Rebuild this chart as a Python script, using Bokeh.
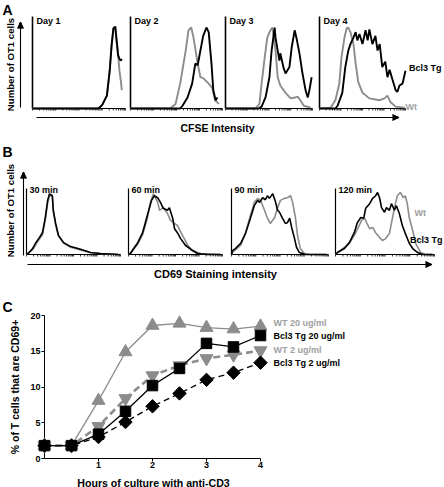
import math
from bokeh.plotting import figure
from bokeh.models import Range1d, FixedTicker
from bokeh.core.properties import value
from bokeh.embed import file_html
from bokeh.resources import INLINE

# ---------------- DATA ----------------
# Panel A: CFSE histograms (x: position along CFSE axis 0-100, y: % of max count)
a1_x = [0, 71, 75, 80, 83, 85, 87, 89, 90, 92, 93.5, 95, 96]
a1_tg = [0, 0, 4, 14, 41, 68, 87, 89, 79, 58, 54, 52, 54]
a1_wt = [0, 0, 4, 14, 41, 68, 87, 89, 76, 60, 41, 30, 20]

a2_wt_x = [0, 43, 49, 54, 60, 63, 66, 68.5, 73, 76, 79, 85, 89, 92, 96]
a2_wt_y = [0, 0, 5, 27, 63, 85, 88, 77, 49, 34, 33, 27, 22, 9, 5]
a2_tg_x = [0, 54, 56.5, 62, 67, 70.5, 73, 76, 79, 82.5, 85, 88, 90, 92.5, 94.5]
a2_tg_y = [0, 0, 3, 12, 27, 49, 47, 63, 79, 88, 83, 49, 20, 9, 12]

a3_wt_x = [0, 34.5, 39, 41.5, 45, 48, 51.5, 54, 57.5, 60, 63, 69, 75, 80, 83, 86, 90, 98]
a3_wt_y = [0, 0, 5, 27, 55, 77, 85, 88, 63, 34, 25, 17, 11, 12, 13, 9, 3, 1]
a3_tg_x = [0, 38, 41.5, 46, 50.5, 53, 56.5, 57.5, 60, 62, 63, 66.5, 69, 73.5, 76, 79.5,
           81.5, 85, 88.5, 92, 94.5, 96.5, 99]
a3_tg_y = [0, 0, 2, 12, 34, 63, 88, 77, 63, 52, 60, 45, 38, 45, 66, 85, 77, 60, 38, 20, 12, 20, 34]

a4_wt_x = [0, 13, 18.5, 23, 25.5, 29, 31.5, 33.5, 36, 39.5, 42, 45, 50, 58, 70, 75.5, 79, 82.5, 88.5, 99]
a4_wt_y = [0, 1, 9, 27, 55, 77, 87, 88, 83, 70, 49, 29, 17, 11, 9, 11, 14, 7, 2, 1]
a4_tg_x = [0, 18.5, 21, 26.5, 30, 33.5, 36, 39.5, 42, 44, 46.5, 50, 53.5, 56, 58, 61.5, 65,
           67.5, 70, 73, 76.5, 79, 81.5, 85, 88.5, 90.5, 93, 96.5, 100]
a4_tg_y = [0, 0, 3, 17, 45, 63, 70, 77, 83, 74, 81, 70, 85, 74, 86, 70, 79, 63, 70, 45, 51,
           34, 42, 31, 20, 18, 25, 27, 41]

# Panel B: CD69 histograms
b1_x = [0, 2, 6.5, 9.5, 13, 17, 20, 22.5, 24.5, 27.5, 28.5, 31, 34, 39.5, 47, 57.5, 68, 78.5, 98]
b1_tg = [0, 2, 9, 17, 24, 33, 56, 82, 92, 89, 67, 47, 29, 18, 12, 8, 3, 1.5, 0]
b1_wt = [0, 2, 7, 14, 22, 30, 52, 78, 90, 88, 66, 45, 28, 17, 11, 7, 3, 1.5, 0]

b2_tg_x = [0, 2, 5.5, 9.5, 15, 20, 24.5, 27.5, 31, 34, 37, 41.5, 43.5, 47, 49, 52, 55.5,
           60.5, 66, 73.5, 84, 98]
b2_tg_y = [0, 1.5, 9, 17, 33, 59, 82, 89, 86, 79, 70, 67, 71, 55, 39, 33, 24, 14, 8, 1.5, 0, 0]
b2_wt_x = [0, 2, 5.5, 9.5, 15, 20, 23.5, 26.5, 31, 33, 37, 41.5, 44.5, 48, 52, 57.5, 63, 68, 76.5, 98]
b2_wt_y = [0, 1.5, 8, 15, 30, 55, 80, 92, 79, 67, 71, 62, 52, 48, 44, 29, 14, 6, 1.5, 0]

b3_tg_x = [0, 1, 4, 9.5, 14.5, 19.5, 23.5, 27, 29, 32, 35, 37, 39, 42.5, 45.5, 47.5, 49.5,
           52.5, 55.5, 57.5, 60, 62, 65, 67, 70, 76.5, 98]
b3_tg_y = [0, 6, 9, 17, 32, 55, 74, 82, 79, 86, 83, 89, 85, 92, 79, 67, 64, 55, 47, 48, 55,
           41, 24, 11, 3, 0, 0]
b3_wt_x = [0, 1, 9.5, 14.5, 19.5, 23.5, 27, 30, 34, 37, 40, 44.5, 47.5, 50.5, 54.5, 57.5,
           61, 63, 66, 68, 71, 75, 80.5, 98]
b3_wt_y = [0, 3, 14, 33, 59, 79, 85, 82, 67, 55, 47, 56, 71, 82, 85, 86, 89, 79, 55, 29, 9, 1.5, 0, 0]

b4_tg_x = [0, 2, 9, 14, 19, 22, 25.5, 28.5, 30.5, 34.5, 37.5, 40.5, 42.5, 44.5, 46.5, 49.5,
           51.5, 54.5, 56.5, 59.5, 61.5, 64.5, 67.5, 70.5, 74.5, 78, 83, 88, 98]
b4_tg_y = [0, 3, 9, 18, 33, 48, 56, 55, 70, 77, 85, 89, 94, 86, 71, 64, 71, 67, 77, 67, 74,
           62, 44, 32, 17, 9, 3, 0, 0]
b4_wt_x = [0, 2, 14, 19, 24, 26.5, 29.5, 31.5, 34.5, 37.5, 40.5, 44.5, 47.5, 50.5, 54.5,
           57.5, 60.5, 62.5, 65.5, 68.5, 70.5, 72.5, 74.5, 78, 81, 86, 91, 98]
b4_wt_y = [0, 3, 17, 29, 44, 52, 55, 48, 39, 41, 33, 26, 21, 24, 32, 55, 77, 89, 94, 86, 89,
           77, 56, 36, 17, 3, 0, 0]

day_labels = ["Day 1", "Day 2", "Day  3", "Day 4"]
time_labels = ["30 min", "60 min", "90 min", "120 min"]

# Panel C: % CD69+ over time
hours = [0, 0.5, 1, 1.5, 2, 2.5, 3, 3.5, 4]
wt_20 = [1.8, 1.8, 8.1, 14.9, 18.6, 18.9, 18.3, 18.1, 18.5]
tg_20 = [1.8, 1.8, 3.4, 6.6, 10.2, 12.6, 16.1, 15.6, 17.2]
wt_2 = [1.8, 1.8, 4.5, 8.4, 11.6, 13.0, 14.0, 14.5, 15.1]
tg_2 = [1.8, 1.8, 3.0, 5.1, 7.3, 9.1, 11.0, 12.0, 13.4]
c_xticks = [1, 2, 3, 4]
c_yticks = [0, 5, 10, 15, 20]
series_names = ["WT 20 ug/ml", "Bcl3 Tg 20 ug/ml", "WT 2 ug/ml", "Bcl3 Tg 2 ug/ml"]

# ---------------- STYLE / LAYOUT ----------------
FONT = "Liberation Sans"
BLACK = "#000000"
GRAY = "#8c8c8c"
TGRAY = "#a0a0a0"
W, H = 444, 487
FL, FR, FT, FB = 44, 260, 315, 458   # frame of panel C (canvas px)


def fs(px):
    return f"{px:.1f}px"


p = figure(width=W, height=H, x_range=Range1d(0, 4), y_range=Range1d(0, 20),
           toolbar_location=None, output_backend="svg", title=None,
           min_border_left=FL, min_border_right=W - FR, min_border_top=FT,
           min_border_bottom=H - FB, outline_line_color=None)
p.grid.visible = False

boxes = {
    "a1": (32, 125, 16, 108), "a2": (130, 222, 16, 108),
    "a3": (225, 312, 16, 108), "a4": (319, 405, 16, 108),
    "b1": (26, 120, 188, 254), "b2": (128, 222, 188, 254),
    "b3": (231, 328, 188, 254), "b4": (335, 434, 188, 254),
}
# "ref": canvas-pixel units (y downwards); one named range pair per histogram subplot
ext_x = {"ref": Range1d(FL, FR)}
ext_y = {"ref": Range1d(FB, FT)}
kys = {}
for name, (L, R, T, B) in boxes.items():
    kx = 100.0 / (R - L)
    ext_x[name] = Range1d((FL - L) * kx, (FR - L) * kx)
    ky = 100.0 / (B - T)
    ext_y[name] = Range1d((B - FB) * ky, (B - FT) * ky)
    kys[name] = ky
p.extra_x_ranges = ext_x
p.extra_y_ranges = ext_y

TICKS = [25 * (d + math.log10(k)) for d in range(4) for k in range(1, 10)] + [100]


def ov(r):
    r.level = "overlay"
    return r


def sub_xy(name, rx, ry):
    L, R, T, B = boxes[name]
    return (rx - L) * 100.0 / (R - L), (B - ry) * 100.0 / (B - T)


def arrow_segments(name, xs, ys, xe, ye):
    """Segments (in a subplot's data units) of an arrow between two canvas-pixel points."""
    out = ([], [], [], [])

    def seg(ax, ay, bx, by):
        u0, v0 = sub_xy(name, ax, ay)
        u1, v1 = sub_xy(name, bx, by)
        out[0].append(u0); out[1].append(v0); out[2].append(u1); out[3].append(v1)

    length = math.hypot(xe - xs, ye - ys)
    dx, dy = (xe - xs) / length, (ye - ys) / length
    px, py = -dy, dx
    seg(xs, ys, xe - 3 * dx, ye - 3 * dy)
    hl, hw = 6.0, 3.0
    bx, by = xe - hl * dx, ye - hl * dy
    steps = 9
    for i in range(steps):
        t = -hw + 2 * hw * i / (steps - 1)
        seg(xe, ye, bx + t * px, by + t * py)
    return out


def draw_hist(name, wt_x, wt_y, tg_x, tg_y, axis_w, curve_w, arrows=()):
    kw = dict(x_range_name=name, y_range_name=name)
    ky = kys[name]
    n = len(TICKS)
    ov(p.segment(x0=TICKS, y0=[0] * n, x1=TICKS, y1=[-2.0 * ky] * n,
                 line_color=BLACK, line_width=0.8, **kw))
    # baseline + arrows in one renderer
    x0s, y0s, x1s, y1s = [0], [0], [100], [0]
    for a in arrows:
        sx0, sy0, sx1, sy1 = arrow_segments(name, *a)
        x0s += sx0; y0s += sy0; x1s += sx1; y1s += sy1
    ov(p.segment(x0=x0s, y0=y0s, x1=x1s, y1=y1s, line_color=BLACK, line_width=1.1, **kw))
    ov(p.segment(x0=[0], y0=[0], x1=[0], y1=[100], line_color=BLACK, line_width=axis_w, **kw))
    ov(p.line(wt_x, wt_y, line_color=GRAY, line_width=curve_w, **kw))
    ov(p.line(tg_x, tg_y, line_color=BLACK, line_width=curve_w, **kw))


draw_hist("a1", a1_x, a1_wt, a1_x, a1_tg, 1.6, 1.9,
          arrows=[(20, 107, 20, 22), (36, 117, 398, 117)])
draw_hist("a2", a2_wt_x, a2_wt_y, a2_tg_x, a2_tg_y, 1.6, 1.9)
draw_hist("a3", a3_wt_x, a3_wt_y, a3_tg_x, a3_tg_y, 1.6, 1.9)
draw_hist("a4", a4_wt_x, a4_wt_y, a4_tg_x, a4_tg_y, 1.6, 1.9)
draw_hist("b1", b1_x, b1_wt, b1_x, b1_tg, 1.2, 1.6,
          arrows=[(23, 255, 23, 172), (27, 264, 431, 264)])
draw_hist("b2", b2_wt_x, b2_wt_y, b2_tg_x, b2_tg_y, 1.2, 1.6)
draw_hist("b3", b3_wt_x, b3_wt_y, b3_tg_x, b3_tg_y, 1.2, 1.6)
draw_hist("b4", b4_wt_x, b4_wt_y, b4_tg_x, b4_tg_y, 1.2, 1.6)


def lab(x, y, text, size, color=BLACK, align="left", baseline="middle", angle=0.0):
    ov(p.text(x=[x], y=[y], text=[text], x_range_name="ref", y_range_name="ref",
              text_font=value(FONT), text_font_size=value(fs(size)),
              text_font_style="bold", text_color=color, text_align=align,
              text_baseline=baseline, angle=angle))


# panel letters
lab(2, 1, "A", 14, baseline="top")
lab(2, 143, "B", 14, baseline="top")
lab(2, 298, "C", 14, baseline="top")
# y labels
lab(10, 64, "Number of OT1 cells", 9.6, align="center", angle=math.pi / 2)
lab(10, 210, "Number of OT1 cells", 9.6, align="center", angle=math.pi / 2)
# subplot titles
for i, k in enumerate(["a1", "a2", "a3", "a4"]):
    lab(boxes[k][0] + 4, 20, day_labels[i], 9)
for i, k in enumerate(["b1", "b2", "b3", "b4"]):
    lab(boxes[k][0] + 3, 189, time_labels[i], 9)
# axis titles
lab(217, 127, "CFSE Intensity", 10.5, align="center")
lab(215, 273, "CD69 Staining intensity", 11, align="center")
lab(153, 482, "Hours of culture with anti-CD3", 10.6, align="center")
# series labels
lab(441, 67, "Bcl3 Tg", 9, align="right")
lab(405, 106, "Wt", 9, color=TGRAY)
lab(414, 212, "Wt", 9, color=TGRAY)
lab(442, 239, "Bcl3 Tg", 9, align="right")

# ---------------- PANEL C (main frame, real axes) ----------------
p.xaxis.ticker = FixedTicker(ticks=c_xticks)
p.yaxis.ticker = FixedTicker(ticks=c_yticks)
for ax in (p.xaxis[0], p.yaxis[0]):
    ax.major_tick_in = 0
    ax.major_tick_out = 3
    ax.minor_tick_line_color = None
    ax.axis_line_color = BLACK
    ax.major_tick_line_color = BLACK
    ax.major_label_text_font = FONT
    ax.major_label_text_font_size = fs(9)
    ax.major_label_text_font_style = "bold"
    ax.major_label_text_color = BLACK
    ax.axis_label_text_font = FONT
    ax.axis_label_text_font_style = "bold"
    ax.axis_label_text_color = BLACK
p.yaxis.axis_label = "% of T cells that are CD69+"
p.yaxis.axis_label_text_font_size = fs(10.5)
p.xaxis.major_label_standoff = 0
p.yaxis.major_label_standoff = 1
p.yaxis.axis_label_standoff = 6

ov(p.line(hours, wt_20, line_color=GRAY, line_width=1.3))
ov(p.scatter(hours, wt_20, marker="triangle", size=13, fill_color=GRAY, line_color=GRAY))
ov(p.line(hours, wt_2, line_color=GRAY, line_width=2.6, line_dash="7 4"))
ov(p.scatter(hours, wt_2, marker="inverted_triangle", size=13, fill_color=GRAY, line_color=GRAY))
ov(p.line(hours, tg_2, line_color=BLACK, line_width=1.3, line_dash="6 4"))
ov(p.scatter(hours, tg_2, marker="square", angle=math.pi / 4, size=9.5,
             fill_color=BLACK, line_color=BLACK))
ov(p.line(hours, tg_20, line_color=BLACK, line_width=1.3))
ov(p.scatter(hours, tg_20, marker="square", size=10.5, fill_color=BLACK, line_color=BLACK))

label_rows = [322, 335, 349, 362]
label_cols = [TGRAY, BLACK, TGRAY, BLACK]
for name, ry, col in zip(series_names, label_rows, label_cols):
    lab(273, ry, name, 9, color=col)

open("out.html", "w").write(file_html(p, INLINE))
